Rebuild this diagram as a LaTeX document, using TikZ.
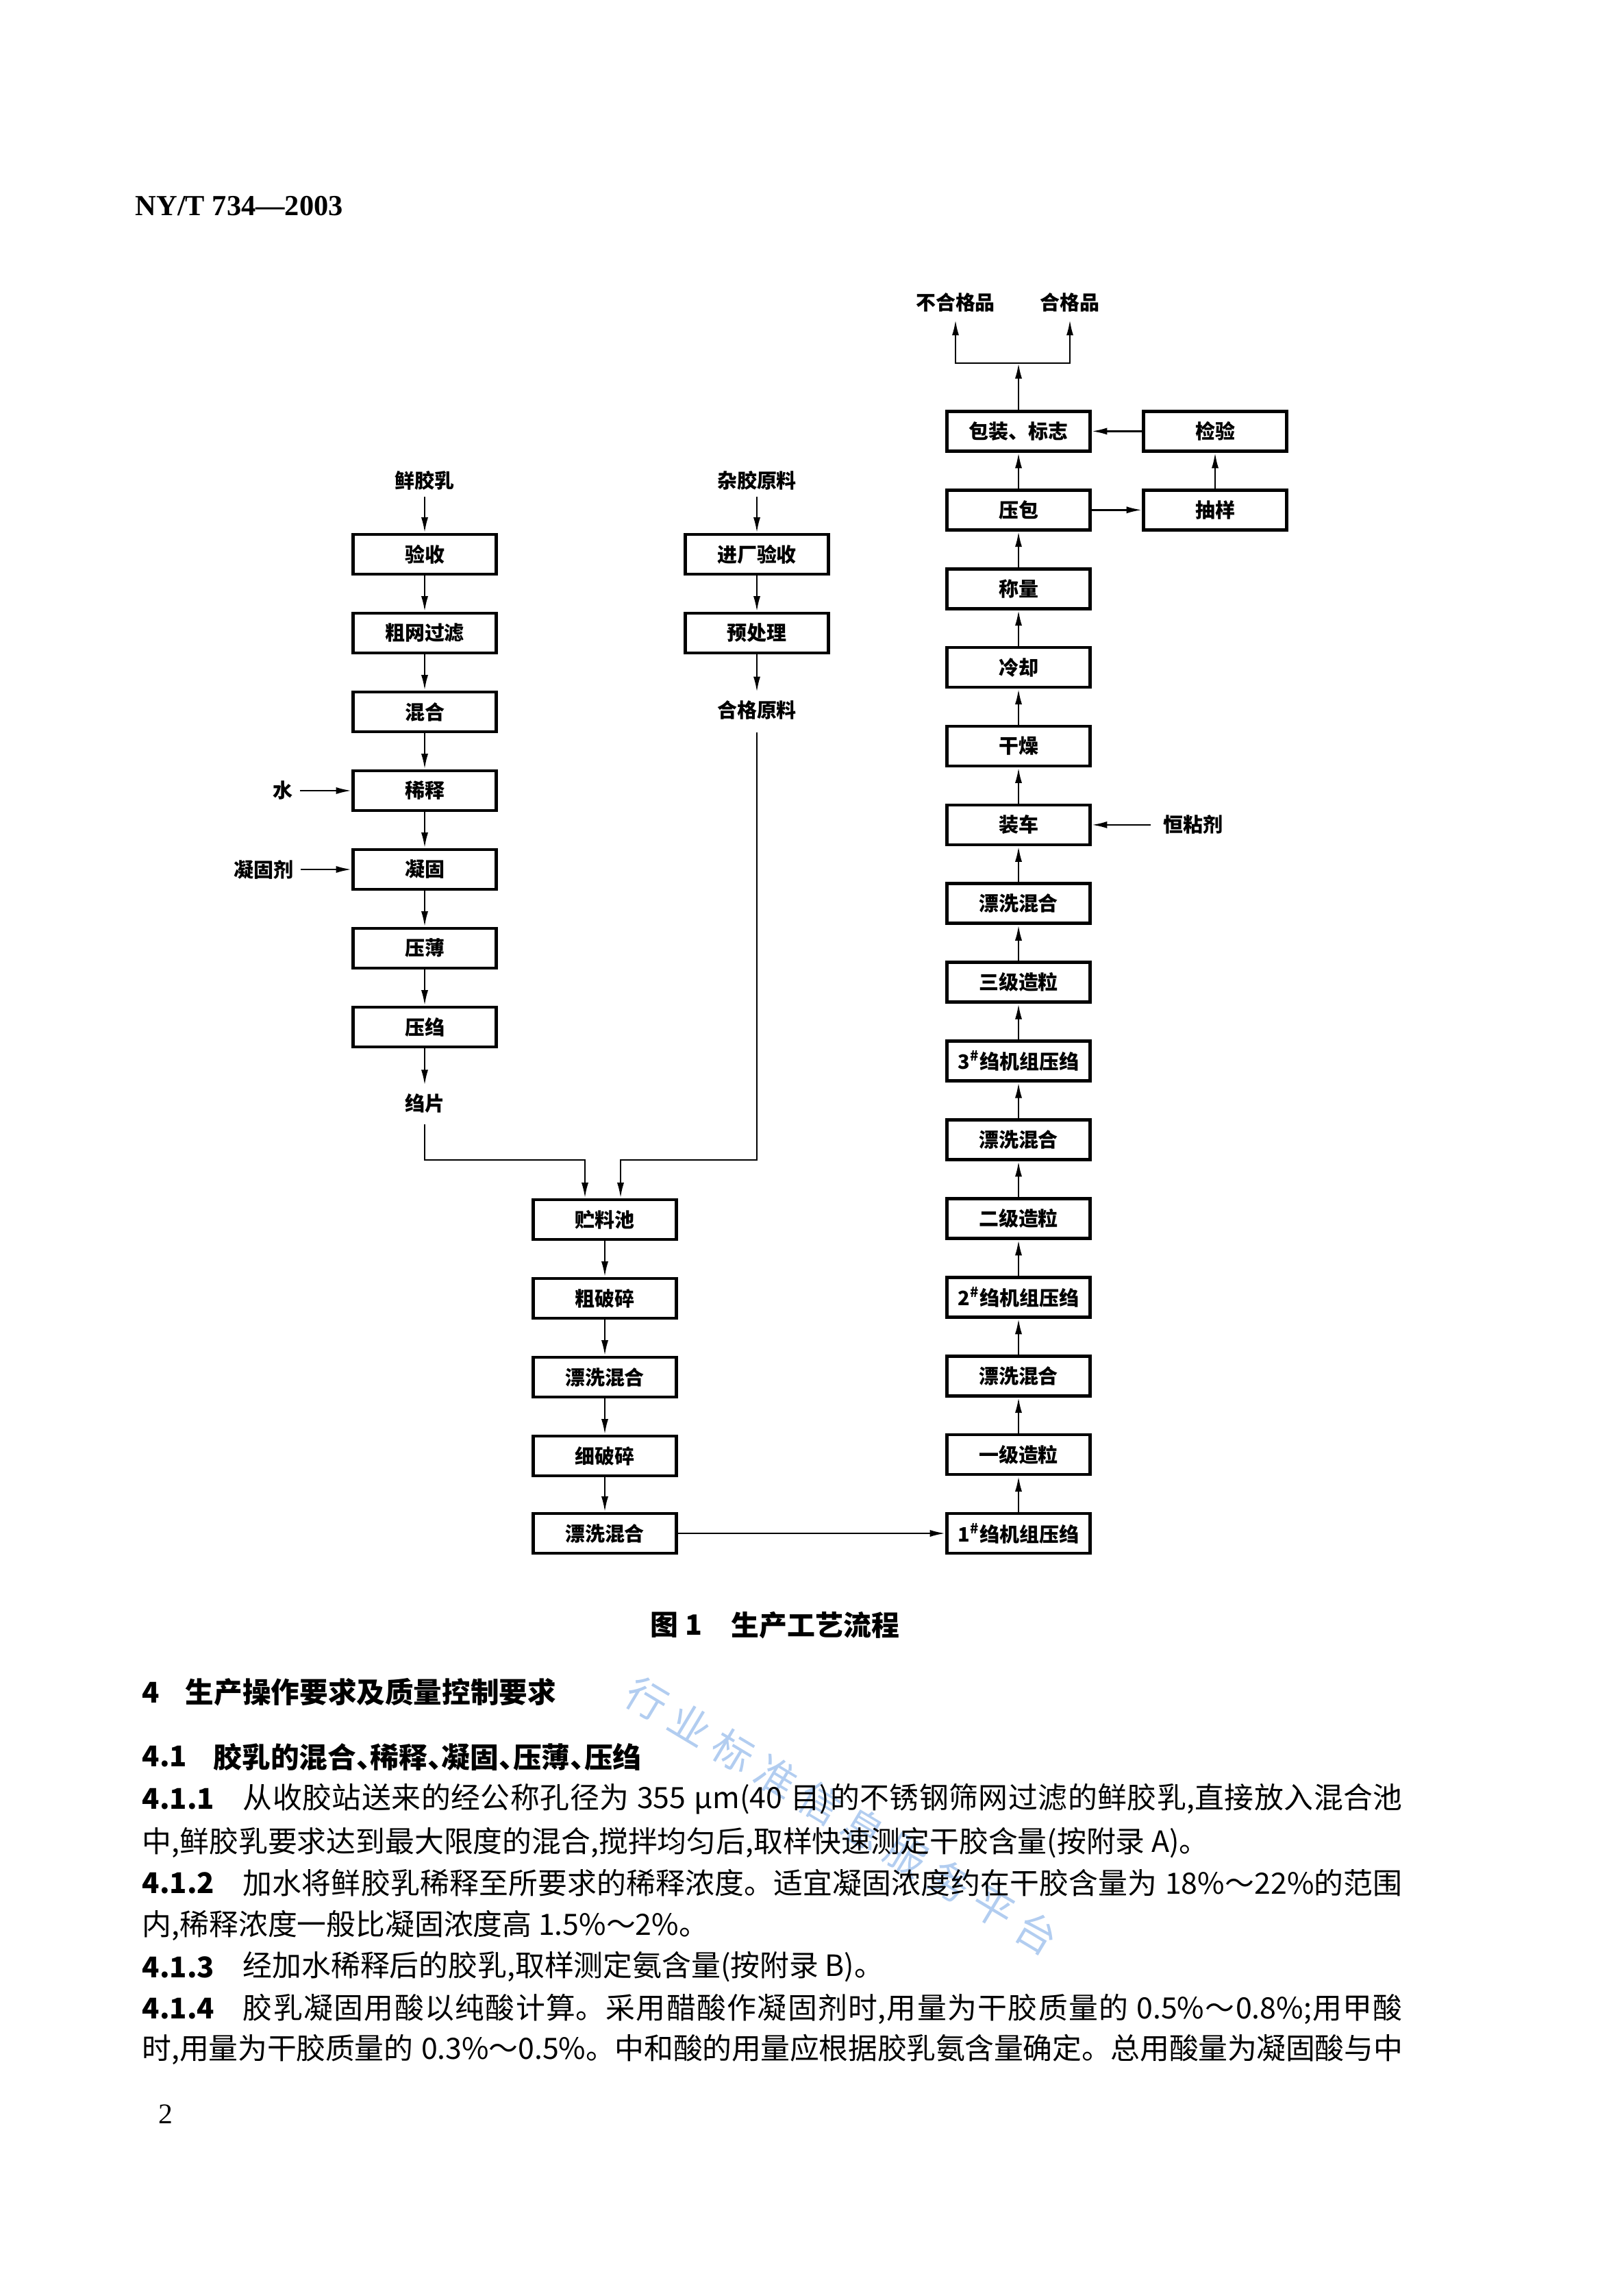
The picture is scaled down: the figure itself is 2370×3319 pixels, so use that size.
\documentclass[tikz,border=0pt]{standalone}
\usepackage{fontspec}
\setmainfont{Noto Sans CJK SC}
\newfontfamily\hdrfont{Liberation Serif}
\usetikzlibrary{arrows.meta}
\XeTeXlinebreaklocale "zh"
\XeTeXlinebreakskip=0pt plus 6pt minus 0.6pt
\newcommand\boxfont{\fontsize{7.3pt}{8pt}\selectfont\bfseries}
\newcommand\bodyfont{\fontsize{10.8pt}{12pt}\selectfont}
\newcommand\headfont{\fontsize{10.5pt}{12pt}\selectfont\bfseries}
\newcommand\capfont{\fontsize{10.3pt}{12pt}\selectfont\bfseries}
\newcommand\dun{\makebox[0.5em][l]{、}}
\newcommand\jline[2]{\parbox{#1}{\noindent\spaceskip=0.28em\relax\parfillskip=0pt\relax #2}}
\definecolor{wm}{RGB}{178,205,240}
\tikzset{
  pbox/.style={draw, line width=0.42mm, minimum width=18.52mm, minimum height=5.14mm, inner sep=0pt, font=\boxfont},
  plabel/.style={inner sep=0pt, font=\boxfont},
  flow/.style={line width=0.22mm, -{Latex[length=2mm,width=0.9mm]}},
  bodytext/.style={anchor=west, inner sep=0pt, font=\bodyfont},
  bodynum/.style={anchor=west, inner sep=0pt, font=\headfont},
}
\begin{document}
\begin{tikzpicture}[x=0.088608mm, y=-0.088608mm]
\useasboundingbox (0,0) rectangle (2370,3319);

% watermark
\node[rotate=-31, text=wm, inner sep=0pt, font=\fontsize{15pt}{16pt}\selectfont\addfontfeature{LetterSpace=24}] (wmk) at (1229,2650) {行业标准信息服务平台};

% header
\node[anchor=west, inner sep=0pt, font=\hdrfont\fontsize{10.7pt}{12pt}\selectfont\bfseries] (hdr) at (197,301) {NY/T 734—2003};

% left column
\node[plabel] (xjr) at (620,701) {鲜胶乳};
\node[pbox] (a1) at (620,809) {验收};
\node[pbox] (a2) at (620,924) {粗网过滤};
\node[pbox] (a3) at (620,1039) {混合};
\node[pbox] (a4) at (620,1154) {稀释};
\node[pbox] (a5) at (620,1269) {凝固};
\node[pbox] (a6) at (620,1384) {压薄};
\node[pbox] (a7) at (620,1499) {压绉};
\node[plabel] (zp) at (620,1610) {绉片};
\node[plabel] (water) at (413,1154) {水};
\node[plabel] (coag) at (385,1269) {凝固剂};

\draw[flow, shorten <=0.8mm] (xjr.south) -- (a1.north);
\foreach \p/\q in {a1/a2,a2/a3,a3/a4,a4/a5,a5/a6,a6/a7} \draw[flow] (\p.south) -- (\q.north);
\draw[flow, shorten >=1mm] (a7.south) -- (zp.north);
\draw[flow, shorten <=0.9mm] (water.east) -- (a4.west);
\draw[flow, shorten <=0.9mm] (coag.east) -- (a5.west);

% middle column
\node[plabel] (zjyl) at (1105,701) {杂胶原料};
\node[pbox] (b1) at (1105,809) {进厂验收};
\node[pbox] (b2) at (1105,924) {预处理};
\node[plabel] (hgyl) at (1105,1036) {合格原料};
\draw[flow, shorten <=0.8mm] (zjyl.south) -- (b1.north);
\draw[flow] (b1.south) -- (b2.north);
\draw[flow, shorten >=1mm] (b2.south) -- (hgyl.north);

% centre column
\node[pbox] (c1) at (883,1780) {贮料池};
\node[pbox] (c2) at (883,1895) {粗破碎};
\node[pbox] (c3) at (883,2010) {漂洗混合};
\node[pbox] (c4) at (883,2125) {细破碎};
\node[pbox] (c5) at (883,2238) {漂洗混合};
\foreach \p/\q in {c1/c2,c2/c3,c3/c4,c4/c5} \draw[flow] (\p.south) -- (\q.north);

\coordinate (j1) at (854,1693);
\coordinate (j2) at (906,1693);
\draw[flow, shorten <=1.4mm] (zp.south) |- (j1) -- (c1.north -| j1);
\draw[flow, shorten <=1.6mm] (hgyl.south) |- (j2) -- (c1.north -| j2);

% right column
\node[pbox] (r0) at (1487,2238) {1\textsuperscript{\#}绉机组压绉};
\node[pbox] (r1) at (1487,2123.1) {一级造粒};
\node[pbox] (r2) at (1487,2008.2) {漂洗混合};
\node[pbox] (r3) at (1487,1893.3) {2\textsuperscript{\#}绉机组压绉};
\node[pbox] (r4) at (1487,1778.4) {二级造粒};
\node[pbox] (r5) at (1487,1663.5) {漂洗混合};
\node[pbox] (r6) at (1487,1548.6) {3\textsuperscript{\#}绉机组压绉};
\node[pbox] (r7) at (1487,1433.7) {三级造粒};
\node[pbox] (r8) at (1487,1318.8) {漂洗混合};
\node[pbox] (r9) at (1487,1203.9) {装车};
\node[pbox] (r10) at (1487,1089) {干燥};
\node[pbox] (r11) at (1487,974.1) {冷却};
\node[pbox] (r12) at (1487,859.2) {称量};
\node[pbox] (r13) at (1487,744.3) {压包};
\node[pbox] (r14) at (1487,629.4) {包装、标志};
\foreach \p/\q in {r0/r1,r1/r2,r2/r3,r3/r4,r4/r5,r5/r6,r6/r7,r7/r8,r8/r9,r9/r10,r10/r11,r11/r12,r12/r13,r13/r14} \draw[flow] (\p.north) -- (\q.south);
\draw[flow] (c5.east) -- (r0.west);

\node[pbox] (s1) at (1774,744.3) {抽样};
\node[pbox] (s2) at (1774,629.4) {检验};
\draw[flow] (r13.east) -- (s1.west);
\draw[flow] (s1.north) -- (s2.south);
\draw[flow] (s2.west) -- (r14.east);

\node[plabel] (hnj) at (1742,1203.9) {恒粘剂};
\draw[flow, shorten <=1.6mm] (hnj.west) -- (r9.east);

\coordinate (jt) at (1487,530);
\node[plabel] (bhg) at (1395,441) {不合格品};
\node[plabel] (hgp) at (1562,441) {合格品};
\draw[flow] (r14.north) -- (jt);
\draw[flow, shorten >=1mm] (jt) -| (bhg.south);
\draw[flow, shorten >=1mm] (jt) -| (hgp.south);

% caption
\node[anchor=west, inner sep=0pt, font=\capfont] (cap1) at (949,2372) {图 1};
\node[anchor=west, inner sep=0pt, font=\capfont] (cap2) at (1067,2372) {生产工艺流程};

% text
\node[bodynum] (h4n) at (207,2470) {4};
\node[anchor=west, inner sep=0pt, font=\headfont] (h4) at (270,2470) {生产操作要求及质量控制要求};
\node[bodynum] (h41n) at (207,2564) {4.1};
\node[anchor=west, inner sep=0pt, font=\headfont] (h41) at (311,2564) {胶乳的混合\dun 稀释\dun 凝固\dun 压薄\dun 压绉};

\node[bodynum] (n411) at (207,2626) {4.1.1};
\node[bodytext] (t411a) at (354,2626) {\jline{150.0mm}{从收胶站送来的经公称孔径为 355 μm(40 目)的不锈钢筛网过滤的鲜胶乳,直接放入混合池}};
\node[bodytext] (t411b) at (207,2690) {中,鲜胶乳要求达到最大限度的混合,搅拌均匀后,取样快速测定干胶含量(按附录 A)。};

\node[bodynum] (n412) at (207,2748) {4.1.2};
\node[bodytext] (t412a) at (354,2748) {\jline{150.0mm}{加水将鲜胶乳稀释至所要求的稀释浓度。适宜凝固浓度约在干胶含量为 18\%～22\%的范围}};
\node[bodytext] (t412b) at (207,2810) {内,稀释浓度一般比凝固浓度高 1.5\%～2\%。};

\node[bodynum] (n413) at (207,2871) {4.1.3};
\node[bodytext] (t413) at (354,2871) {经加水稀释后的胶乳,取样测定氨含量(按附录 B)。};

\node[bodynum] (n414) at (207,2932) {4.1.4};
\node[bodytext] (t414a) at (354,2932) {\jline{150.0mm}{胶乳凝固用酸以纯酸计算。采用醋酸作凝固剂时,用量为干胶质量的 0.5\%～0.8\%;用甲酸}};
\node[bodytext] (t414b) at (207,2991) {\jline{163.04mm}{时,用量为干胶质量的 0.3\%～0.5\%。中和酸的用量应根据胶乳氨含量确定。总用酸量为凝固酸与中}};

\node[inner sep=0pt, font=\hdrfont\fontsize{10.5pt}{12pt}\selectfont] (pg) at (242,3086) {2};
\end{tikzpicture}
\end{document}
